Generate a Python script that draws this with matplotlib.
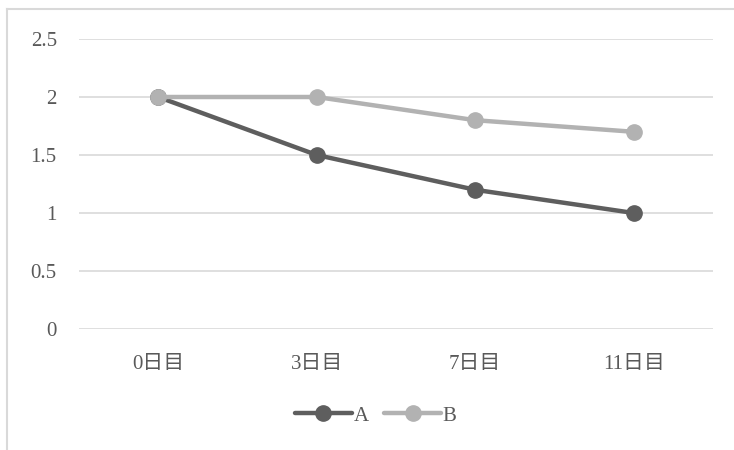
import matplotlib
matplotlib.use("Agg")
import matplotlib.pyplot as plt
from matplotlib.lines import Line2D

categories = ["0日目", "3日目", "7日目", "11日目"]
series_a = [2.0, 1.5, 1.2, 1.0]
series_b = [2.0, 2.0, 1.8, 1.7]
yticks = [0, 0.5, 1, 1.5, 2, 2.5]
ytick_labels = ["0", "0.5", "1", "1.5", "2", "2.5"]

W, H = 734, 450
fig = plt.figure(figsize=(W / 100, H / 100), dpi=100)
fam = ["Liberation Serif", "Noto Sans CJK JP"]

left, right, top, bottom = 79, 713, 39, 329
ax = fig.add_axes([left / W, 1 - bottom / H, (right - left) / W, (bottom - top) / H])

x = list(range(len(categories)))
ax.plot(x, series_a, color="#5e5e5e", lw=3.2, marker="o", ms=11, label="A", solid_capstyle="round", zorder=2)
ax.plot(x, series_b, color="#b2b2b2", lw=3.2, marker="o", ms=11, label="B", solid_capstyle="round", zorder=3)

ax.set_xlim(-0.5, len(categories) - 0.5)
ax.set_ylim(0, 2.5)
ax.set_yticks(yticks)
ax.set_yticklabels(ytick_labels, family=fam, fontsize=15, color="#595959")
ax.set_xticks(x)
ax.set_xticklabels(categories, family=fam, fontsize=15, color="#595959")
ax.tick_params(axis="both", length=0)
ax.tick_params(axis="y", pad=16)
ax.tick_params(axis="x", pad=19)
ax.grid(axis="y", color="#d9d9d9", lw=1.2)
ax.set_axisbelow(True)
for s in ax.spines.values():
    s.set_visible(False)

leg = fig.legend(loc="center", bbox_to_anchor=(376 / W, 1 - 416 / H), ncol=2, frameon=False,
                 prop={"family": fam, "size": 15}, handlelength=2.7, columnspacing=0.75,
                 handletextpad=0.1)
for t in leg.get_texts():
    t.set_color("#595959")

fig.add_artist(Line2D([7 / W, 1.0], [1 - 9 / H, 1 - 9 / H], transform=fig.transFigure, color="#d9d9d9", lw=1.5))
fig.add_artist(Line2D([7 / W, 7 / W], [1 - 9 / H, 0], transform=fig.transFigure, color="#d9d9d9", lw=1.5))

fig.savefig("out.png", dpi=100)
